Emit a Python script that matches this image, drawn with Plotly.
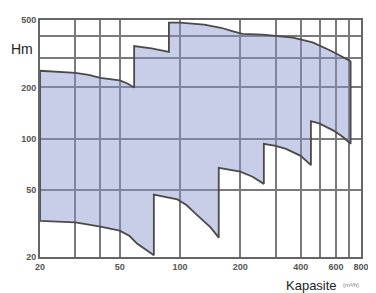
import plotly.graph_objects as go

# Upper boundary of the operating envelope (Q in m3/h, H in m), left to right
upper_q = [20, 25, 30, 35, 40, 50, 54.6, 59, 59, 72, 88, 88, 100, 132, 160, 184, 205, 259, 366, 459, 569, 703, 710]
upper_h = [251, 248, 244, 237, 228, 220, 211, 200, 351, 340, 324, 483, 483, 469, 450, 429, 414, 410, 394, 369, 328, 288, 284]

# Lower boundary (sawtooth), left to right
lower_q = [20, 30, 40, 50, 56, 61, 67, 74, 74, 97, 108, 118, 142, 156, 156, 200, 230, 259, 262, 262, 300, 338, 400, 450, 450, 495, 587, 650, 710]
lower_h = [32.7, 32.0, 30.2, 28.6, 26.6, 24.0, 22.3, 20.5, 46.7, 43.7, 40.4, 36.5, 29.9, 26.0, 67.2, 63.7, 59.5, 54.5, 54.0, 93, 90.5, 86.8, 79, 69.6, 126.7, 122.7, 110.9, 102, 93]

x_tickvals = [20, 30, 40, 50, 100, 200, 300, 400, 500, 600, 700, 800]
x_ticktext = ["20", "", "", "50", "100", "200", "", "400", "", "600", "", "800"]
y_tickvals = [20, 50, 100, 200, 300, 400, 500]
y_ticktext = ["20", "50", "100", "200", "", "", "500"]

poly_q = upper_q + lower_q[::-1] + [upper_q[0]]
poly_h = upper_h + lower_h[::-1] + [upper_h[0]]

fig = go.Figure()
fig.add_trace(go.Scatter(
    x=poly_q, y=poly_h, mode="lines", fill="toself",
    fillcolor="rgba(133,144,204,0.45)",
    line=dict(color="#4a4a4a", width=1.8),
    hoverinfo="skip", showlegend=False,
))

tick_font = dict(family="Liberation Sans", size=9, color="#555555", weight="bold")
fig.update_xaxes(
    type="log", range=[1.30103, 2.90309],
    tickvals=x_tickvals, ticktext=x_ticktext, tickfont=tick_font,
    showgrid=True, gridcolor="#7a7a7a", gridwidth=1.5,
    showline=True, linecolor="#666666", linewidth=2, mirror=True,
    ticks="", zeroline=False,
)
fig.update_yaxes(
    type="log", range=[1.30103, 2.69897],
    tickvals=y_tickvals, ticktext=y_ticktext, tickfont=tick_font,
    showgrid=True, gridcolor="#7a7a7a", gridwidth=1.5,
    showline=True, linecolor="#666666", linewidth=2, mirror=True,
    ticks="", zeroline=False,
)

# The page body adds an 8px margin, so the figure is sized to fit the window.
fig.update_layout(
    width=368, height=285,
    margin=dict(l=32, r=8, t=7, b=36),
    paper_bgcolor="white", plot_bgcolor="white",
    annotations=[
        dict(text="Hm", xref="paper", yref="paper", x=-0.055, y=0.876,
             xanchor="center", yanchor="middle", showarrow=False,
             font=dict(family="Liberation Sans", size=14, color="#222222")),
        dict(text="Kapasite", xref="paper", yref="paper", x=0.759, y=-0.119,
             xanchor="left", yanchor="middle", showarrow=False,
             font=dict(family="Liberation Sans", size=13, color="#222222")),
        dict(text="(m³/h)", xref="paper", yref="paper", x=0.939, y=-0.119,
             xanchor="left", yanchor="middle", showarrow=False,
             font=dict(family="Liberation Sans", size=6, color="#777777")),
    ],
)

fig.write_html("out.html")
